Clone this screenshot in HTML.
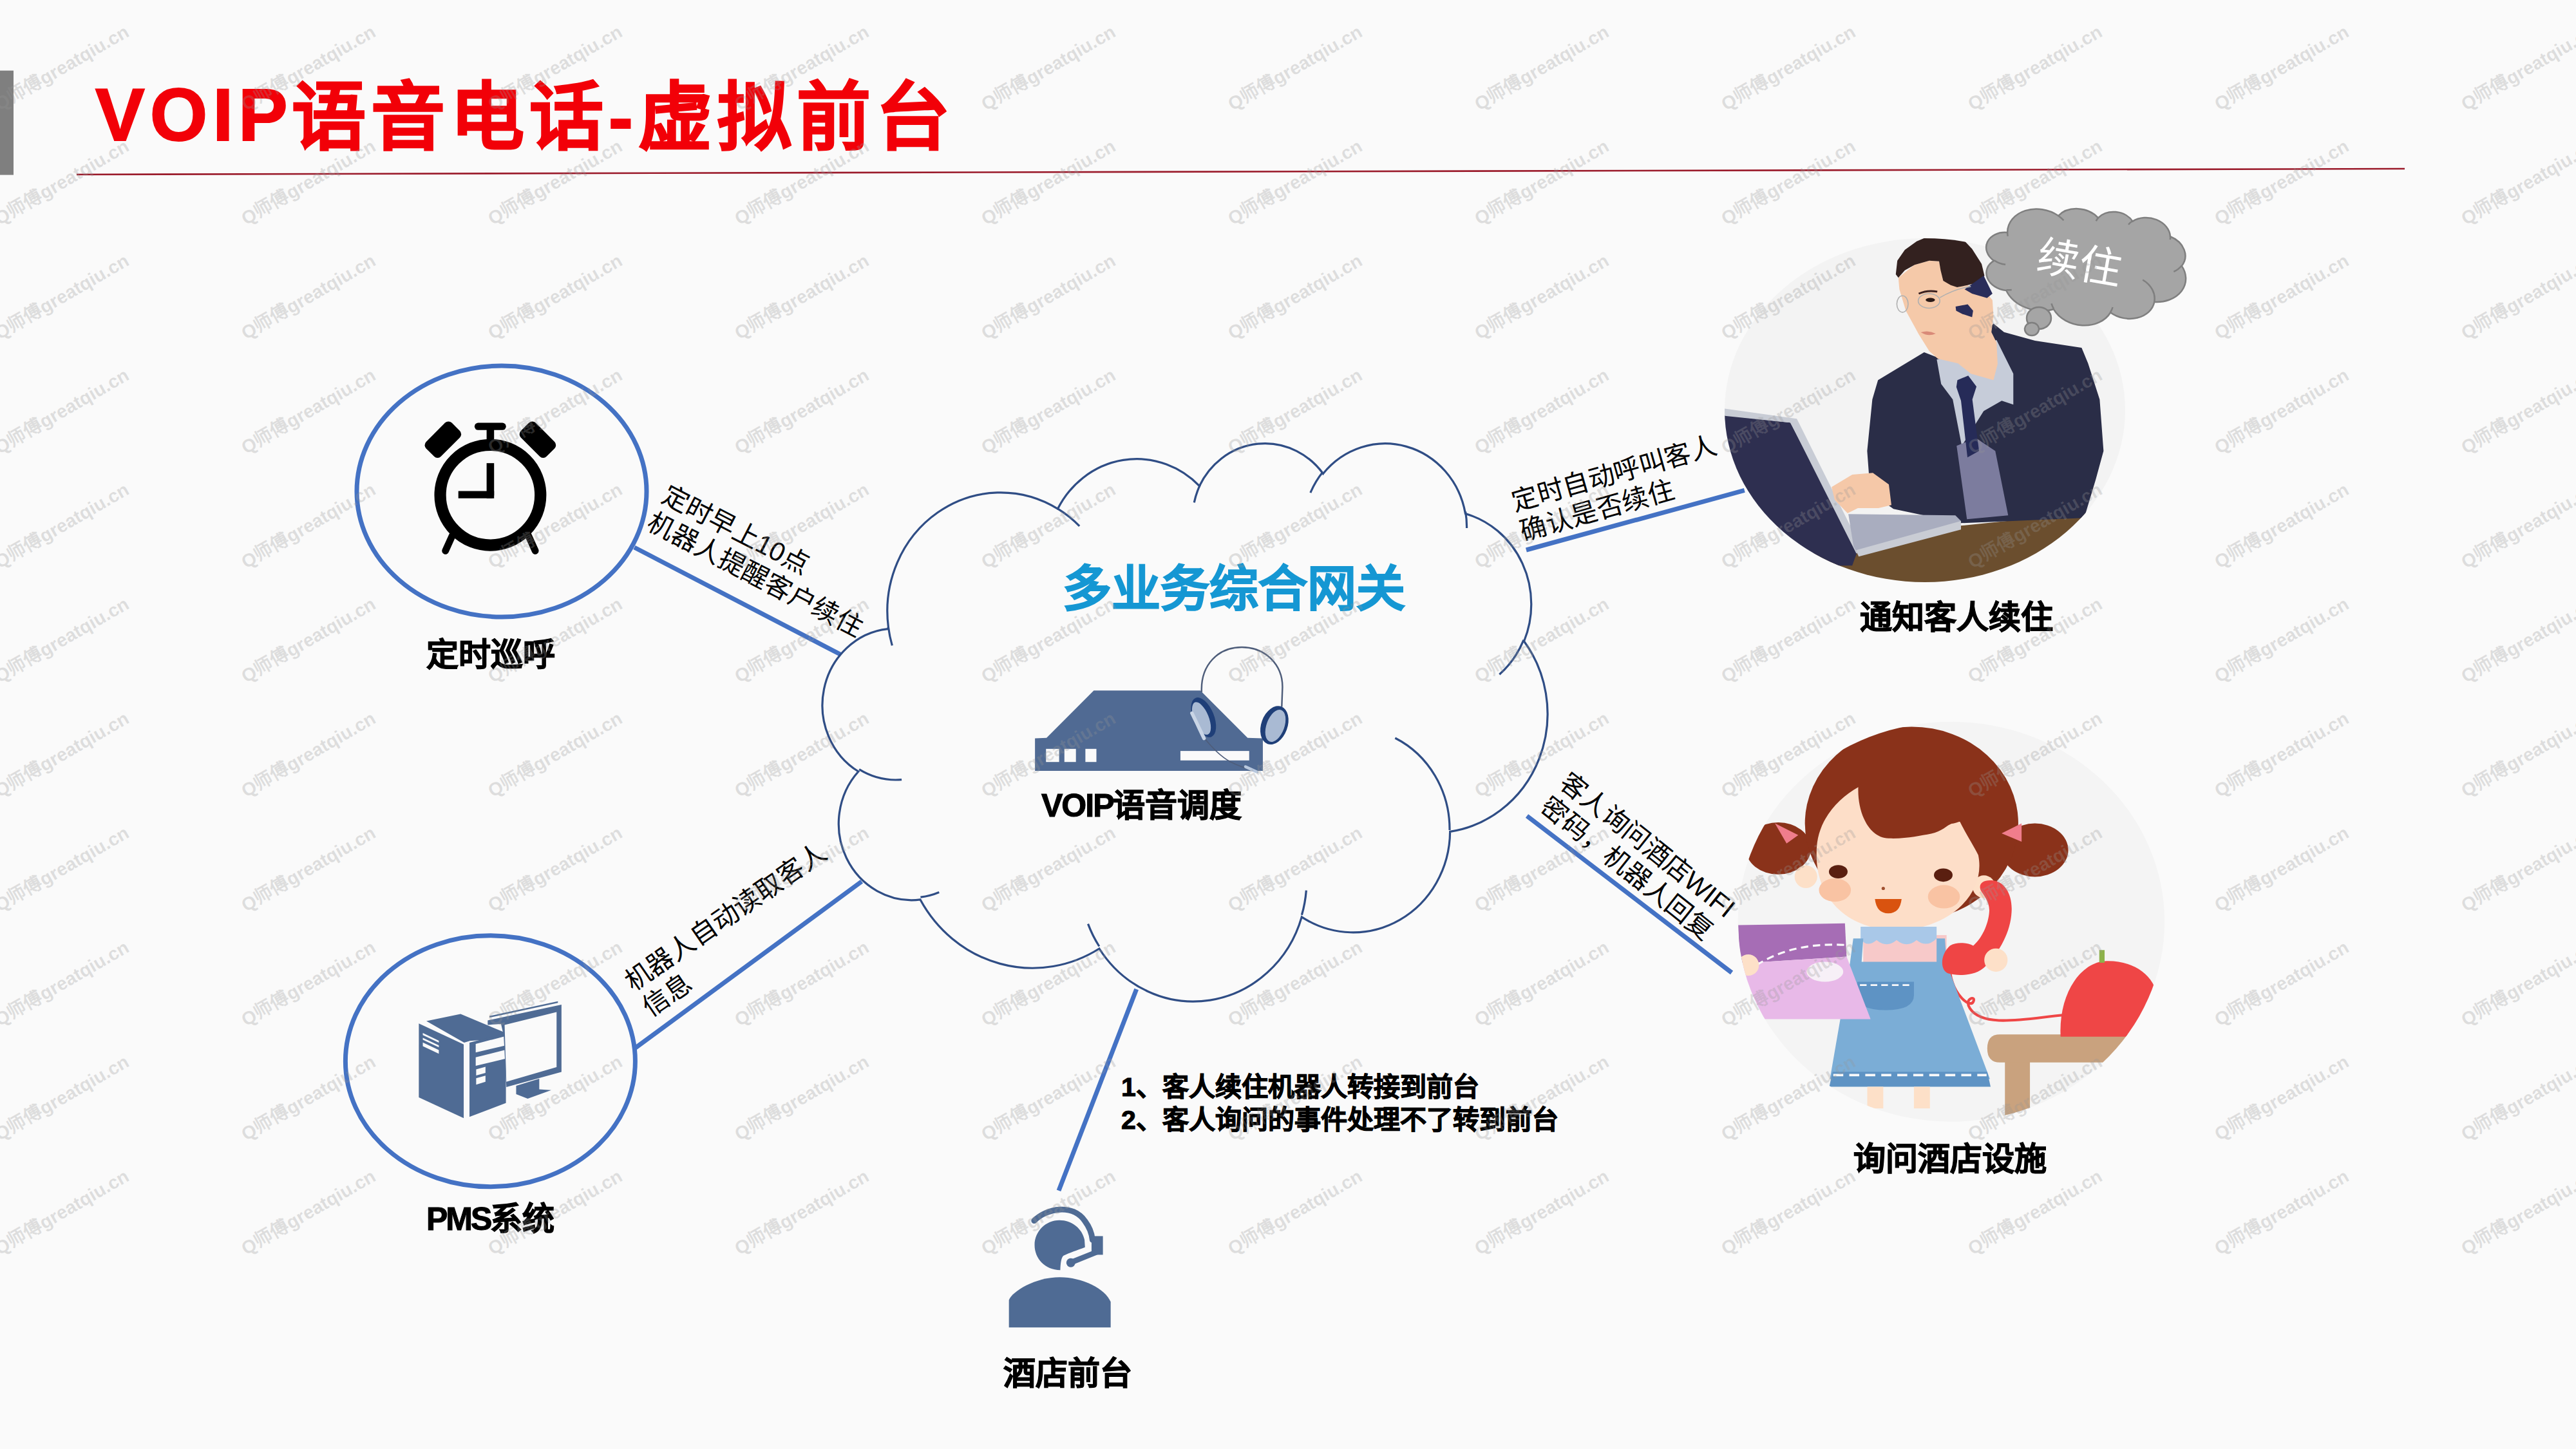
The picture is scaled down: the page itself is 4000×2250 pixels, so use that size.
<!DOCTYPE html>
<html lang="zh-CN"><head><meta charset="utf-8">
<style>
html,body{margin:0;padding:0;}
body{width:4000px;height:2250px;position:relative;overflow:hidden;background:#fafafa;font-family:"Liberation Sans",sans-serif;}
.layer{position:absolute;left:0;top:0;}
.wm text{font-family:"Liberation Sans",sans-serif;font-weight:bold;font-size:28.7px;fill:#969696;fill-opacity:0.28;}
.t{position:absolute;white-space:nowrap;line-height:1;}
.b{font-weight:bold;color:#000;-webkit-text-stroke:1.1px #000;}
.r{position:absolute;white-space:nowrap;font-size:40px;line-height:48px;color:#000;transform-origin:0 0;}
</style></head><body>

<svg class="layer" width="4000" height="2250" viewBox="0 0 4000 2250">
<rect x="0" y="109.6" width="21" height="162" fill="#7f7f7f"/>
<line x1="119" y1="271" x2="3734" y2="262" stroke="#9b1b2b" stroke-width="2.6"/>

<defs><clipPath id="manclip"><ellipse cx="822" cy="742" rx="777" ry="667"/></clipPath>
<clipPath id="girlclip"><ellipse cx="734" cy="640" rx="640" ry="600"/></clipPath></defs>
<g transform="translate(2660,340) scale(0.40024)">
 <ellipse cx="822" cy="742" rx="777" ry="667" fill="#f3f3f3"/>
 <g clip-path="url(#manclip)">
  <polygon fill="#6b4e2e" points="380,1300 960,1190 1450,1140 1700,1140 1700,1500 300,1500"/>
  <polygon fill="#2a2d47" points="640,625 819,517 872,538 1000,500 1088,406 1129,439 1249,472 1430,500 1455,560 1500,700 1515,900 1485,1010 1440,1160 960,1180 700,1125 610,1060 598,900 618,700"/>
  <polygon fill="#c6ccd9" points="868,545 960,520 1100,470 1165,600 1165,720 1120,705 1050,745 965,880 930,700 885,640"/>
  <polygon fill="#7c7c9e" points="945,880 1020,850 1095,900 1145,1150 985,1165 962,1000"/>
  <polygon fill="#262b58" points="948,625 990,608 1022,650 1006,700 1032,900 987,925 962,705 944,652"/>
  <polygon fill="#f5c9a9" points="719,228 781,178 839,162 877,164 893,240 947,265 988,257 1026,282 1067,294 1084,315 1088,377 1080,439 1100,480 1104,563 1088,625 1000,600 950,560 872,542 839,513 798,447 748,356 723,273"/>
  <polygon fill="#33211f" points="709,215 715,162 744,120 790,87 839,66 902,64 964,73 1005,116 1042,174 1053,220 1038,244 988,257 947,265 922,257 893,240 883,199 877,164 839,162 782,178 744,199 719,228"/>
  <polygon fill="#2a2d5a" points="976,273 1050,220 1084,290 1063,307 1005,290"/>
  <polygon fill="#2a2d5a" points="941,340 988,331 1009,356 1005,381 968,369 943,356"/>
  <ellipse cx="843" cy="314" rx="18" ry="8" fill="#2a1a18"/>
  <path d="M798,290 Q830,275 870,282" fill="none" stroke="#3a2020" stroke-width="7"/>
  <ellipse cx="735" cy="330" rx="22" ry="32" fill="none" stroke="#b0b0b0" stroke-width="4"/>
  <ellipse cx="838" cy="318" rx="42" ry="28" fill="none" stroke="#b0b0b0" stroke-width="4"/>
  <path d="M880,305 Q940,270 1000,262" fill="none" stroke="#b0b0b0" stroke-width="4"/>
  <path d="M806,440 Q835,430 864,445 Q835,458 806,440 Z" fill="#d98a78"/>
  <polygon fill="#2e2f50" points="-10,755 300,790 560,1290 540,1345 -10,1345"/>
  <polygon fill="#c8ccd5" points="-10,728 325,775 578,1282 556,1298 300,790 -10,758"/>
  <polygon fill="#a9adbf" points="525,1145 940,1150 962,1172 962,1200 562,1302 545,1270"/>
  <polygon fill="#c9ccd4" points="555,1285 962,1172 962,1205 565,1310"/>
  <polygon fill="#f5c8a8" points="460,1040 540,992 620,985 682,1030 692,1110 642,1122 562,1122 522,1142 472,1090"/>
 </g>
</g>

<g transform="rotate(10 3238.5 413.0)">
 <path d="M3109.85,382.37 A49.08,38.93 0 0 1 3183.30,343.54 A38.76,30.78 0 0 1 3244.72,336.04 A31.73,25.18 0 0 1 3298.34,332.01 A35.30,27.94 0 0 1 3360.02,345.12 A38.76,30.81 0 0 1 3385.46,386.99 A49.24,39.06 0 0 1 3353.37,449.44 A42.05,33.33 0 0 1 3289.06,477.45 A49.08,39.04 0 0 1 3201.29,487.83 A56.11,44.66 0 0 1 3123.69,471.75 A31.69,25.07 0 0 1 3096.86,429.73 A31.58,25.18 0 0 1 3109.58,382.94 Z" fill="#a5a5a5" stroke="#7f7f7f" stroke-width="2.5"/>
 <path d="M3115.61,432.39 A31.58,25.18 0 0 1 3097.20,429.01 M3131.86,469.34 A31.69,25.07 0 0 1 3123.80,470.95 M3201.27,487.09 A49.08,39.04 0 0 1 3196.42,479.72 M3291.03,468.71 A49.08,39.04 0 0 1 3289.09,476.80 M3329.57,418.74 A42.05,33.33 0 0 1 3353.20,448.96 M3385.31,386.54 A38.76,30.81 0 0 1 3374.79,397.88 M3360.06,344.49 A35.30,27.94 0 0 1 3360.61,349.84 M3292.85,338.24 A35.30,27.94 0 0 1 3298.24,331.41 M3242.43,341.49 A31.73,25.18 0 0 1 3245.04,335.61 M3183.26,343.49 A49.08,38.93 0 0 1 3192.71,349.21 M3111.50,388.38 A49.08,38.93 0 0 1 3109.85,382.37" fill="none" stroke="#7f7f7f" stroke-width="2.5"/>
</g>
<ellipse cx="3166" cy="494" rx="19" ry="17" fill="#a5a5a5" stroke="#7f7f7f" stroke-width="2.5"/>
<ellipse cx="3155" cy="511" rx="11" ry="10" fill="#a5a5a5" stroke="#7f7f7f" stroke-width="2.5"/>


<g transform="translate(2650,1100) scale(0.51760)">
 <ellipse cx="734" cy="640" rx="640" ry="600" fill="#f4f4f4"/>
 <g clip-path="url(#girlclip)">
  <!-- table -->
  <rect x="895" y="1040" width="75" height="185" fill="#c9a27e"/>
  <path d="M880,978 H1265 V1062 H880 Q842,1062 842,1020 Q842,978 880,978 Z" fill="#c9a27e"/>
  <!-- phone base -->
  <path d="M1062,985 C1055,860 1120,760 1200,758 C1290,756 1345,810 1350,860 L1350,985 Z" fill="#ef4646"/>
  <rect x="1178" y="725" width="16" height="38" fill="#8db24b"/>
  <!-- cord -->
  <path d="M730,790 C740,860 790,900 800,880 C810,860 770,870 790,900 C830,960 960,930 1070,920" fill="none" stroke="#ef4646" stroke-width="8"/>
  <!-- pigtails -->
  <ellipse cx="215" cy="420" rx="98" ry="78" fill="#8a321a"/>
  <ellipse cx="985" cy="425" rx="100" ry="80" fill="#8a321a"/>
  <!-- hair cap -->
  <ellipse cx="615" cy="345" rx="320" ry="290" fill="#8a321a"/>
  <!-- ears -->
  <circle cx="298" cy="505" r="34" fill="#fde0c8"/>
  <circle cx="832" cy="535" r="34" fill="#fde0c8"/>
  <!-- face -->
  <path d="M330,430 C330,340 390,272 455,236 C452,310 485,388 546,390 C600,392 640,382 674,376 C705,370 722,350 735,346 C748,344 755,340 760,340 C780,380 800,410 815,440 C840,560 720,665 570,665 C430,665 325,575 330,430 Z" fill="#fddec8"/>
  <ellipse cx="395" cy="490" rx="28" ry="20" fill="#5a1f10"/>
  <ellipse cx="710" cy="500" rx="28" ry="20" fill="#5a1f10"/>
  <ellipse cx="385" cy="545" rx="48" ry="35" fill="#f9c3a3"/>
  <ellipse cx="712" cy="565" rx="48" ry="35" fill="#f9c3a3"/>
  <path d="M505,572 H585 Q580,615 545,615 Q510,615 505,572 Z" fill="#d9530f"/>
  <circle cx="530" cy="540" r="5" fill="#a05030"/>
  <!-- bows -->
  <polygon points="205,345 275,380 240,405" fill="#f07d8c"/>
  <polygon points="885,375 945,345 945,400" fill="#f07d8c"/>
  <!-- blouse -->
  <rect x="470" y="680" width="250" height="90" fill="#f7c9c9"/>
  <!-- collar -->
  <path d="M462,655 H690 V690 Q660,720 630,695 Q600,720 570,695 Q540,720 510,695 Q480,720 462,690 Z" fill="#a9c8e8"/>
  <!-- dress -->
  <polygon fill="#7badd6" points="440,690 470,690 465,760 690,760 690,690 715,690 720,765 850,1112 370,1112 430,765"/>
  <polygon fill="#5e93c4" points="378,1090 842,1090 852,1135 368,1135"/>
  <path d="M380,1100 H840" stroke="#fafafa" stroke-width="7" stroke-dasharray="30,18"/>
  <path d="M452,820 H622 V860 Q622,905 537,905 Q452,905 452,860 Z" fill="#5e93c4"/>
  <path d="M460,830 H615" stroke="#fafafa" stroke-width="5" stroke-dasharray="20,12"/>
  <!-- legs -->
  <rect x="482" y="1135" width="48" height="65" fill="#fde0c8"/>
  <rect x="622" y="1135" width="48" height="65" fill="#fde0c8"/>
  <!-- book -->
  <polygon fill="#a66db5" points="95,650 415,645 420,745 100,765"/>
  <polygon fill="#e8b9e8" points="100,765 420,745 492,932 152,932"/>
  <path d="M150,770 Q260,700 420,710" fill="none" stroke="#fafafa" stroke-width="6" stroke-dasharray="22,14"/>
  <ellipse cx="355" cy="790" rx="55" ry="30" fill="#f7f0f7"/>
  <circle cx="125" cy="770" r="32" fill="#fde0c8"/>
  <!-- handset -->
  <path d="M856,516 C895,518 918,560 915,610 C912,670 880,730 835,775 C810,800 760,805 725,795 C700,785 700,740 730,712 C750,700 780,702 800,712 C825,690 845,650 848,610 C850,580 830,560 822,545 C815,525 830,514 856,516 Z" fill="#ef4545"/>
  <circle cx="868" cy="755" r="35" fill="#fde0c8"/>
 </g>
</g>
<g fill="none" stroke="#4472c4" stroke-width="7">
 <ellipse cx="779" cy="763" rx="225" ry="195"/>
 <ellipse cx="761.4" cy="1647.8" rx="225" ry="195"/>
 <line x1="985" y1="850" x2="1305.7" y2="1016.5"/>
 <line x1="985" y1="1628.4" x2="1338" y2="1368.8"/>
 <line x1="1764.7" y1="1536" x2="1644" y2="1848.8"/>
 <line x1="2369.9" y1="854" x2="2708.8" y2="761.4"/>
 <line x1="2371" y1="1267" x2="2689" y2="1510.4"/>
</g>
<g fill="none" stroke="#2f4d85" stroke-width="3.2">
 <path d="M1379.43,973.90 A175.80,184.25 0 0 1 1642.49,790.09 A138.83,145.69 0 0 1 1862.48,754.61 A113.63,119.19 0 0 1 2054.52,735.54 A126.44,132.22 0 0 1 2275.41,797.59 A138.83,145.81 0 0 1 2366.53,995.75 A176.37,184.85 0 0 1 2251.63,1291.33 A150.60,157.72 0 0 1 2021.28,1423.86 A175.77,184.75 0 0 1 1706.93,1472.99 A200.97,211.37 0 0 1 1429.02,1396.92 A113.50,118.65 0 0 1 1332.92,1198.01 A113.11,119.19 0 0 1 1378.48,976.60 Z"/>
 <path d="M1400.07,1210.61 A113.11,119.19 0 0 1 1334.13,1194.63 M1458.25,1385.48 A113.50,118.65 0 0 1 1429.40,1393.12 M1706.86,1469.50 A175.77,184.75 0 0 1 1689.48,1434.62 M2028.34,1382.51 A175.77,184.75 0 0 1 2021.39,1420.79 M2166.36,1146.00 A150.60,157.72 0 0 1 2251.00,1289.06 M2366.00,993.63 A138.83,145.81 0 0 1 2328.31,1047.27 M2275.57,794.58 A126.44,132.22 0 0 1 2277.56,819.92 M2034.87,765.03 A126.44,132.22 0 0 1 2054.18,732.72 M1854.28,780.43 A113.63,119.19 0 0 1 1863.63,752.57 M1642.35,789.89 A175.80,184.25 0 0 1 1676.19,816.93 M1385.34,1002.35 A175.80,184.25 0 0 1 1379.43,973.91"/>
</g>

<g transform="translate(640,640) scale(0.16563)" fill="#000">
 <circle cx="733" cy="777" r="470" fill="none" stroke="#000" stroke-width="110"/>
 <rect x="698" y="478" width="70" height="330"/>
 <path d="M433,740 H768 V778 Q768,808 738,808 H433 Z"/>
 <rect x="698" y="150" width="70" height="120"/>
 <rect x="585" y="100" width="295" height="68" rx="34"/>
 <rect x="-170" y="-98" width="340" height="196" rx="45" transform="translate(289,258) rotate(-45)"/>
 <rect x="-170" y="-98" width="340" height="196" rx="45" transform="translate(1177,258) rotate(45)"/>
 <line x1="375" y1="1160" x2="312" y2="1300" stroke="#000" stroke-width="66" stroke-linecap="round"/>
 <line x1="1091" y1="1160" x2="1154" y2="1300" stroke="#000" stroke-width="66" stroke-linecap="round"/>
</g>

<g transform="translate(640,1550) scale(0.13801)" fill="#4f6b94">
 <polygon points="75,285 580,520 580,1350 75,1115"/>
 <polygon points="160,258 545,178 1055,392 1055,450 650,480 585,500"/>
 <polygon points="645,500 1055,392 1055,1180 645,1335"/>
 <g fill="#fafafa">
  <polygon points="120,392 300,478 300,500 120,415"/>
  <polygon points="120,445 300,531 300,553 120,468"/>
  <polygon points="120,498 300,584 300,625 120,540"/>
  <polygon points="715,515 1055,425 1055,530 715,610"/>
  <polygon points="715,665 1055,580 1055,680 715,760"/>
  <polygon points="720,800 825,772 825,840 720,870"/>
  <polygon points="720,900 825,872 825,940 720,972"/>
 </g>
 <polygon points="850,250 1680,72 1680,830 1060,1000 1030,420 1000,290 850,300"/>
 <polygon points="1040,300 1625,155 1625,775 1060,940" fill="#fafafa"/>
 <polygon points="870,215 1640,50 1650,70 880,235" fill="#fafafa"/>
 <polygon points="870,200 1640,35 1640,52 870,218"/>
 <polygon points="1170,985 1430,905 1430,1025 1565,1035 1300,1130 1170,1080"/>
</g>

<g transform="translate(1590,990) scale(0.16305)">
 <polygon fill="#506a93" points="665,505 1680,505 2130,955 2275,960 2275,1270 105,1270 105,960 215,955"/>
 <g fill="#fafafa">
  <rect x="210" y="1060" width="125" height="125"/>
  <rect x="385" y="1060" width="110" height="125"/>
  <rect x="585" y="1060" width="105" height="125"/>
  <rect x="1490" y="1080" width="655" height="90"/>
 </g>
 <path d="M1692,520 C1680,260 1850,92 2075,92 C2300,92 2462,260 2462,470 L2455,660" fill="none" stroke="#4e5d7a" stroke-width="15"/>
 <path d="M1720,960 Q1850,1120 1960,1180 Q2060,1230 2180,1265" fill="none" stroke="#4e5d7a" stroke-width="10"/>
 <line x1="2110" y1="1230" x2="2220" y2="1280" stroke="#b8c8de" stroke-width="28" stroke-linecap="round"/>
 <ellipse cx="1710" cy="760" rx="100" ry="200" transform="rotate(-22 1710 760)" fill="#1f3f78"/>
 <ellipse cx="1690" cy="770" rx="70" ry="165" transform="rotate(-22 1690 770)" fill="#a9bad3"/>
 <line x1="1600" y1="720" x2="1715" y2="960" stroke="#c9d5e6" stroke-width="34" stroke-linecap="round"/>
 <ellipse cx="2385" cy="835" rx="125" ry="190" transform="rotate(20 2385 835)" fill="#1f3f78"/>
 <ellipse cx="2395" cy="840" rx="85" ry="160" transform="rotate(20 2395 840)" fill="#a9bad3"/>
</g>

<g transform="translate(1550,1860) scale(0.14493)" fill="#4f6b94">
 <path d="M115,1388 L115,1095 C150,1000 400,850 660,850 C900,850 1150,975 1205,1115 L1205,1388 Z"/>
 <path d="M665,775 C500,770 390,650 390,505 C390,360 510,240 655,240 C790,240 900,330 925,450 L930,530 C850,560 760,590 700,620 C675,640 668,700 665,775 Z"/>
 <path d="M385,245 C520,110 800,60 930,250 C990,330 1005,400 1010,450" fill="none" stroke="#4f6b94" stroke-width="62" stroke-linecap="round"/>
 <rect x="1000" y="410" width="122" height="200"/>
 <line x1="1070" y1="575" x2="785" y2="690" stroke="#4f6b94" stroke-width="58" stroke-linecap="round"/>
 <circle cx="778" cy="695" r="48"/>
</g>
</svg>

<div class="t" id="title" style="left:146px;top:125px;font-size:115px;font-weight:bold;color:#f20008;letter-spacing:8px;-webkit-text-stroke:2px #f20008;"><span style="position:relative;top:-4px;left:2px">VOIP</span>语音电话-虚拟前台</div>
<div class="t b" id="lab1" style="left:662px;top:992px;font-size:50px;">定时巡呼</div>
<div class="t b" id="lab2" style="left:662px;top:1868px;font-size:50px;"><span style="letter-spacing:-3px">PMS</span>系统</div>
<div class="t b" id="lab3" style="left:1558px;top:2108px;font-size:50px;">酒店前台</div>
<div class="t b" id="lab4" style="left:2888px;top:934px;font-size:50px;">通知客人续住</div>
<div class="t b" id="lab5" style="left:2878px;top:1775px;font-size:50px;">询问酒店设施</div>
<div class="t b" id="lab6" style="left:1617px;top:1226px;font-size:50px;"><span style="letter-spacing:-2px">VOIP</span>语音调度</div>
<div class="t" id="gw" style="left:1650px;top:877px;font-size:76px;font-weight:bold;color:#1597d3;-webkit-text-stroke:1.5px #1597d3;">多业务综合网关</div>
<div class="t b" id="notes" style="left:1741px;top:1663px;font-size:41px;line-height:50.5px;">1、客人续住机器人转接到前台<br>2、客人询问的事件处理不了转到前台</div>
<div class="r" id="r1" style="left:1042px;top:744px;font-size:41px;transform:rotate(27.4deg);">定时早上10点<br>机器人提醒客户续住</div>
<div class="r" id="r2" style="left:961px;top:1509px;font-size:41px;transform:rotate(-34.6deg);">机器人自动读取客人<br>信息</div>
<div class="r" id="r3" style="left:2342px;top:757px;font-size:41px;transform:rotate(-15.8deg);">定时自动呼叫客人<br>确认是否续住</div>
<div class="r" id="r4" style="left:2443px;top:1190px;font-size:41px;transform:rotate(38.5deg);">客人询问酒店WIFI<br>密码，机器人回复</div>
<div class="t" id="xz" style="left:3170px;top:364px;font-size:66px;color:#fff;transform:rotate(10deg);transform-origin:0 0;">续住</div>
<svg class="layer" style="pointer-events:none" width="4000" height="2250" viewBox="0 0 4000 2250"><g class="wm"><text x="-1.0" y="172.6" transform="rotate(-30 -1.0 172.6)">Q师傅greatqiu.cn</text><text x="382.0" y="172.6" transform="rotate(-30 382.0 172.6)">Q师傅greatqiu.cn</text><text x="765.0" y="172.6" transform="rotate(-30 765.0 172.6)">Q师傅greatqiu.cn</text><text x="1148.0" y="172.6" transform="rotate(-30 1148.0 172.6)">Q师傅greatqiu.cn</text><text x="1531.0" y="172.6" transform="rotate(-30 1531.0 172.6)">Q师傅greatqiu.cn</text><text x="1914.0" y="172.6" transform="rotate(-30 1914.0 172.6)">Q师傅greatqiu.cn</text><text x="2297.0" y="172.6" transform="rotate(-30 2297.0 172.6)">Q师傅greatqiu.cn</text><text x="2680.0" y="172.6" transform="rotate(-30 2680.0 172.6)">Q师傅greatqiu.cn</text><text x="3063.0" y="172.6" transform="rotate(-30 3063.0 172.6)">Q师傅greatqiu.cn</text><text x="3446.0" y="172.6" transform="rotate(-30 3446.0 172.6)">Q师傅greatqiu.cn</text><text x="3829.0" y="172.6" transform="rotate(-30 3829.0 172.6)">Q师傅greatqiu.cn</text><text x="-1.0" y="350.3" transform="rotate(-30 -1.0 350.3)">Q师傅greatqiu.cn</text><text x="382.0" y="350.3" transform="rotate(-30 382.0 350.3)">Q师傅greatqiu.cn</text><text x="765.0" y="350.3" transform="rotate(-30 765.0 350.3)">Q师傅greatqiu.cn</text><text x="1148.0" y="350.3" transform="rotate(-30 1148.0 350.3)">Q师傅greatqiu.cn</text><text x="1531.0" y="350.3" transform="rotate(-30 1531.0 350.3)">Q师傅greatqiu.cn</text><text x="1914.0" y="350.3" transform="rotate(-30 1914.0 350.3)">Q师傅greatqiu.cn</text><text x="2297.0" y="350.3" transform="rotate(-30 2297.0 350.3)">Q师傅greatqiu.cn</text><text x="2680.0" y="350.3" transform="rotate(-30 2680.0 350.3)">Q师傅greatqiu.cn</text><text x="3063.0" y="350.3" transform="rotate(-30 3063.0 350.3)">Q师傅greatqiu.cn</text><text x="3446.0" y="350.3" transform="rotate(-30 3446.0 350.3)">Q师傅greatqiu.cn</text><text x="3829.0" y="350.3" transform="rotate(-30 3829.0 350.3)">Q师傅greatqiu.cn</text><text x="-1.0" y="528.0" transform="rotate(-30 -1.0 528.0)">Q师傅greatqiu.cn</text><text x="382.0" y="528.0" transform="rotate(-30 382.0 528.0)">Q师傅greatqiu.cn</text><text x="765.0" y="528.0" transform="rotate(-30 765.0 528.0)">Q师傅greatqiu.cn</text><text x="1148.0" y="528.0" transform="rotate(-30 1148.0 528.0)">Q师傅greatqiu.cn</text><text x="1531.0" y="528.0" transform="rotate(-30 1531.0 528.0)">Q师傅greatqiu.cn</text><text x="1914.0" y="528.0" transform="rotate(-30 1914.0 528.0)">Q师傅greatqiu.cn</text><text x="2297.0" y="528.0" transform="rotate(-30 2297.0 528.0)">Q师傅greatqiu.cn</text><text x="2680.0" y="528.0" transform="rotate(-30 2680.0 528.0)">Q师傅greatqiu.cn</text><text x="3063.0" y="528.0" transform="rotate(-30 3063.0 528.0)">Q师傅greatqiu.cn</text><text x="3446.0" y="528.0" transform="rotate(-30 3446.0 528.0)">Q师傅greatqiu.cn</text><text x="3829.0" y="528.0" transform="rotate(-30 3829.0 528.0)">Q师傅greatqiu.cn</text><text x="-1.0" y="705.7" transform="rotate(-30 -1.0 705.7)">Q师傅greatqiu.cn</text><text x="382.0" y="705.7" transform="rotate(-30 382.0 705.7)">Q师傅greatqiu.cn</text><text x="765.0" y="705.7" transform="rotate(-30 765.0 705.7)">Q师傅greatqiu.cn</text><text x="1148.0" y="705.7" transform="rotate(-30 1148.0 705.7)">Q师傅greatqiu.cn</text><text x="1531.0" y="705.7" transform="rotate(-30 1531.0 705.7)">Q师傅greatqiu.cn</text><text x="1914.0" y="705.7" transform="rotate(-30 1914.0 705.7)">Q师傅greatqiu.cn</text><text x="2297.0" y="705.7" transform="rotate(-30 2297.0 705.7)">Q师傅greatqiu.cn</text><text x="2680.0" y="705.7" transform="rotate(-30 2680.0 705.7)">Q师傅greatqiu.cn</text><text x="3063.0" y="705.7" transform="rotate(-30 3063.0 705.7)">Q师傅greatqiu.cn</text><text x="3446.0" y="705.7" transform="rotate(-30 3446.0 705.7)">Q师傅greatqiu.cn</text><text x="3829.0" y="705.7" transform="rotate(-30 3829.0 705.7)">Q师傅greatqiu.cn</text><text x="-1.0" y="883.4" transform="rotate(-30 -1.0 883.4)">Q师傅greatqiu.cn</text><text x="382.0" y="883.4" transform="rotate(-30 382.0 883.4)">Q师傅greatqiu.cn</text><text x="765.0" y="883.4" transform="rotate(-30 765.0 883.4)">Q师傅greatqiu.cn</text><text x="1148.0" y="883.4" transform="rotate(-30 1148.0 883.4)">Q师傅greatqiu.cn</text><text x="1531.0" y="883.4" transform="rotate(-30 1531.0 883.4)">Q师傅greatqiu.cn</text><text x="1914.0" y="883.4" transform="rotate(-30 1914.0 883.4)">Q师傅greatqiu.cn</text><text x="2297.0" y="883.4" transform="rotate(-30 2297.0 883.4)">Q师傅greatqiu.cn</text><text x="2680.0" y="883.4" transform="rotate(-30 2680.0 883.4)">Q师傅greatqiu.cn</text><text x="3063.0" y="883.4" transform="rotate(-30 3063.0 883.4)">Q师傅greatqiu.cn</text><text x="3446.0" y="883.4" transform="rotate(-30 3446.0 883.4)">Q师傅greatqiu.cn</text><text x="3829.0" y="883.4" transform="rotate(-30 3829.0 883.4)">Q师傅greatqiu.cn</text><text x="-1.0" y="1061.1" transform="rotate(-30 -1.0 1061.1)">Q师傅greatqiu.cn</text><text x="382.0" y="1061.1" transform="rotate(-30 382.0 1061.1)">Q师傅greatqiu.cn</text><text x="765.0" y="1061.1" transform="rotate(-30 765.0 1061.1)">Q师傅greatqiu.cn</text><text x="1148.0" y="1061.1" transform="rotate(-30 1148.0 1061.1)">Q师傅greatqiu.cn</text><text x="1531.0" y="1061.1" transform="rotate(-30 1531.0 1061.1)">Q师傅greatqiu.cn</text><text x="1914.0" y="1061.1" transform="rotate(-30 1914.0 1061.1)">Q师傅greatqiu.cn</text><text x="2297.0" y="1061.1" transform="rotate(-30 2297.0 1061.1)">Q师傅greatqiu.cn</text><text x="2680.0" y="1061.1" transform="rotate(-30 2680.0 1061.1)">Q师傅greatqiu.cn</text><text x="3063.0" y="1061.1" transform="rotate(-30 3063.0 1061.1)">Q师傅greatqiu.cn</text><text x="3446.0" y="1061.1" transform="rotate(-30 3446.0 1061.1)">Q师傅greatqiu.cn</text><text x="3829.0" y="1061.1" transform="rotate(-30 3829.0 1061.1)">Q师傅greatqiu.cn</text><text x="-1.0" y="1238.8" transform="rotate(-30 -1.0 1238.8)">Q师傅greatqiu.cn</text><text x="382.0" y="1238.8" transform="rotate(-30 382.0 1238.8)">Q师傅greatqiu.cn</text><text x="765.0" y="1238.8" transform="rotate(-30 765.0 1238.8)">Q师傅greatqiu.cn</text><text x="1148.0" y="1238.8" transform="rotate(-30 1148.0 1238.8)">Q师傅greatqiu.cn</text><text x="1531.0" y="1238.8" transform="rotate(-30 1531.0 1238.8)">Q师傅greatqiu.cn</text><text x="1914.0" y="1238.8" transform="rotate(-30 1914.0 1238.8)">Q师傅greatqiu.cn</text><text x="2297.0" y="1238.8" transform="rotate(-30 2297.0 1238.8)">Q师傅greatqiu.cn</text><text x="2680.0" y="1238.8" transform="rotate(-30 2680.0 1238.8)">Q师傅greatqiu.cn</text><text x="3063.0" y="1238.8" transform="rotate(-30 3063.0 1238.8)">Q师傅greatqiu.cn</text><text x="3446.0" y="1238.8" transform="rotate(-30 3446.0 1238.8)">Q师傅greatqiu.cn</text><text x="3829.0" y="1238.8" transform="rotate(-30 3829.0 1238.8)">Q师傅greatqiu.cn</text><text x="-1.0" y="1416.5" transform="rotate(-30 -1.0 1416.5)">Q师傅greatqiu.cn</text><text x="382.0" y="1416.5" transform="rotate(-30 382.0 1416.5)">Q师傅greatqiu.cn</text><text x="765.0" y="1416.5" transform="rotate(-30 765.0 1416.5)">Q师傅greatqiu.cn</text><text x="1148.0" y="1416.5" transform="rotate(-30 1148.0 1416.5)">Q师傅greatqiu.cn</text><text x="1531.0" y="1416.5" transform="rotate(-30 1531.0 1416.5)">Q师傅greatqiu.cn</text><text x="1914.0" y="1416.5" transform="rotate(-30 1914.0 1416.5)">Q师傅greatqiu.cn</text><text x="2297.0" y="1416.5" transform="rotate(-30 2297.0 1416.5)">Q师傅greatqiu.cn</text><text x="2680.0" y="1416.5" transform="rotate(-30 2680.0 1416.5)">Q师傅greatqiu.cn</text><text x="3063.0" y="1416.5" transform="rotate(-30 3063.0 1416.5)">Q师傅greatqiu.cn</text><text x="3446.0" y="1416.5" transform="rotate(-30 3446.0 1416.5)">Q师傅greatqiu.cn</text><text x="3829.0" y="1416.5" transform="rotate(-30 3829.0 1416.5)">Q师傅greatqiu.cn</text><text x="-1.0" y="1594.2" transform="rotate(-30 -1.0 1594.2)">Q师傅greatqiu.cn</text><text x="382.0" y="1594.2" transform="rotate(-30 382.0 1594.2)">Q师傅greatqiu.cn</text><text x="765.0" y="1594.2" transform="rotate(-30 765.0 1594.2)">Q师傅greatqiu.cn</text><text x="1148.0" y="1594.2" transform="rotate(-30 1148.0 1594.2)">Q师傅greatqiu.cn</text><text x="1531.0" y="1594.2" transform="rotate(-30 1531.0 1594.2)">Q师傅greatqiu.cn</text><text x="1914.0" y="1594.2" transform="rotate(-30 1914.0 1594.2)">Q师傅greatqiu.cn</text><text x="2297.0" y="1594.2" transform="rotate(-30 2297.0 1594.2)">Q师傅greatqiu.cn</text><text x="2680.0" y="1594.2" transform="rotate(-30 2680.0 1594.2)">Q师傅greatqiu.cn</text><text x="3063.0" y="1594.2" transform="rotate(-30 3063.0 1594.2)">Q师傅greatqiu.cn</text><text x="3446.0" y="1594.2" transform="rotate(-30 3446.0 1594.2)">Q师傅greatqiu.cn</text><text x="3829.0" y="1594.2" transform="rotate(-30 3829.0 1594.2)">Q师傅greatqiu.cn</text><text x="-1.0" y="1771.9" transform="rotate(-30 -1.0 1771.9)">Q师傅greatqiu.cn</text><text x="382.0" y="1771.9" transform="rotate(-30 382.0 1771.9)">Q师傅greatqiu.cn</text><text x="765.0" y="1771.9" transform="rotate(-30 765.0 1771.9)">Q师傅greatqiu.cn</text><text x="1148.0" y="1771.9" transform="rotate(-30 1148.0 1771.9)">Q师傅greatqiu.cn</text><text x="1531.0" y="1771.9" transform="rotate(-30 1531.0 1771.9)">Q师傅greatqiu.cn</text><text x="1914.0" y="1771.9" transform="rotate(-30 1914.0 1771.9)">Q师傅greatqiu.cn</text><text x="2297.0" y="1771.9" transform="rotate(-30 2297.0 1771.9)">Q师傅greatqiu.cn</text><text x="2680.0" y="1771.9" transform="rotate(-30 2680.0 1771.9)">Q师傅greatqiu.cn</text><text x="3063.0" y="1771.9" transform="rotate(-30 3063.0 1771.9)">Q师傅greatqiu.cn</text><text x="3446.0" y="1771.9" transform="rotate(-30 3446.0 1771.9)">Q师傅greatqiu.cn</text><text x="3829.0" y="1771.9" transform="rotate(-30 3829.0 1771.9)">Q师傅greatqiu.cn</text><text x="-1.0" y="1949.6" transform="rotate(-30 -1.0 1949.6)">Q师傅greatqiu.cn</text><text x="382.0" y="1949.6" transform="rotate(-30 382.0 1949.6)">Q师傅greatqiu.cn</text><text x="765.0" y="1949.6" transform="rotate(-30 765.0 1949.6)">Q师傅greatqiu.cn</text><text x="1148.0" y="1949.6" transform="rotate(-30 1148.0 1949.6)">Q师傅greatqiu.cn</text><text x="1531.0" y="1949.6" transform="rotate(-30 1531.0 1949.6)">Q师傅greatqiu.cn</text><text x="1914.0" y="1949.6" transform="rotate(-30 1914.0 1949.6)">Q师傅greatqiu.cn</text><text x="2297.0" y="1949.6" transform="rotate(-30 2297.0 1949.6)">Q师傅greatqiu.cn</text><text x="2680.0" y="1949.6" transform="rotate(-30 2680.0 1949.6)">Q师傅greatqiu.cn</text><text x="3063.0" y="1949.6" transform="rotate(-30 3063.0 1949.6)">Q师傅greatqiu.cn</text><text x="3446.0" y="1949.6" transform="rotate(-30 3446.0 1949.6)">Q师傅greatqiu.cn</text><text x="3829.0" y="1949.6" transform="rotate(-30 3829.0 1949.6)">Q师傅greatqiu.cn</text></g></svg>
</body></html>
